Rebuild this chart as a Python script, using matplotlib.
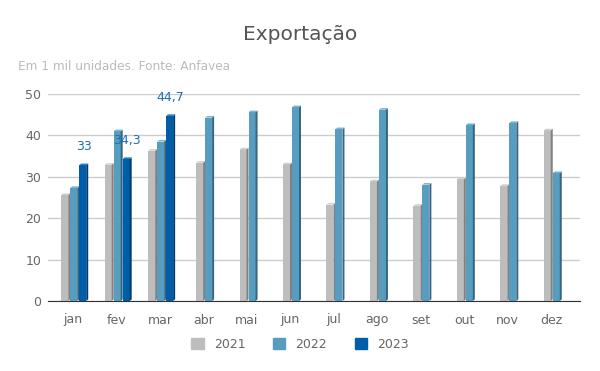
import matplotlib
matplotlib.use("Agg")
import matplotlib.pyplot as plt
from matplotlib.patches import Polygon
import numpy as np

# data (mil unidades)
meses = ["jan", "fev", "mar", "abr", "mai", "jun", "jul", "ago", "set", "out", "nov", "dez"]
v2021 = [25.6, 32.9, 36.3, 33.4, 36.6, 33.0, 23.3, 28.9, 23.0, 29.4, 27.8, 41.2]
v2022 = [27.3, 41.0, 38.5, 44.3, 45.6, 46.8, 41.5, 46.2, 28.1, 42.5, 43.0, 30.9]
v2023 = [32.8, 34.3, 44.7, None, None, None, None, None, None, None, None, None]
rotulos2023 = ["33", "34,3", "44,7"]

series = [("2021", v2021, "#bdbdbd", "#808080", "#d0d0d0"),
          ("2022", v2022, "#579dc0", "#376580", "#7bb5d2"),
          ("2023", v2023, "#005ea8", "#003c6e", "#2f7cc0")]

plt.rcParams['font.family'] = ['DejaVu Sans']

fig = plt.figure(figsize=(6, 3.71), dpi=100)
ax = fig.add_axes([48 / 600, 1 - 301 / 371, 532 / 600, 207 / 371])

slot = 0.207   # largura total de cada barra
frente = 0.161
lado = slot - frente
dy = 0.4

x = np.arange(len(meses))
for i in range(len(meses)):
    ativos = [s for s in series if s[1][i] is not None]
    n = len(ativos)
    for k, (nome, vals, cor, cor_lado, cor_topo) in enumerate(ativos):
        h = vals[i]
        x0 = x[i] - n * slot / 2 + k * slot + 0.04
        ax.bar(x0, h, width=frente, align="edge", color=cor, zorder=3)
        ax.add_patch(Polygon([(x0 + frente, 0), (x0 + slot, dy), (x0 + slot, h + dy), (x0 + frente, h)],
                             closed=True, color=cor_lado, zorder=3, lw=0))
        ax.add_patch(Polygon([(x0, h), (x0 + lado, h + dy), (x0 + slot, h + dy), (x0 + frente, h)],
                             closed=True, color=cor_topo, zorder=3, lw=0))
        if nome == "2023":
            ax.text(x0 + slot / 2, h + 3.0, rotulos2023[i], ha="center", va="bottom",
                    fontsize=9, color="#1f6db5", zorder=4)

ax.set_xlim(-0.575, 11.667)
ax.set_ylim(0, 50)
ax.set_yticks([0, 10, 20, 30, 40, 50])
ax.set_xticks(x)
ax.set_xticklabels(meses)
ax.tick_params(axis="both", length=0, labelsize=9, labelcolor="#666666")
ax.tick_params(axis="x", pad=9)
ax.tick_params(axis="y", pad=5)
ax.grid(axis="y", color="#cccccc", lw=1, zorder=0)
for s in ["top", "right", "left"]:
    ax.spines[s].set_visible(False)
ax.spines["bottom"].set_color("#333333")
ax.spines["bottom"].set_zorder(5)

fig.text(0.5, 1 - 35 / 371, "Exportação", ha="center", va="center", fontsize=14.5, color="#555555")
fig.text(18 / 600, 1 - 67 / 371, "Em 1 mil unidades. Fonte: Anfavea", ha="left", va="center",
         fontsize=8.7, color="#bbbbbb")

handles = [plt.Rectangle((0, 0), 1, 1, color=s[2]) for s in series]
fig.legend(handles, [s[0] for s in series], loc="center", bbox_to_anchor=(0.5, 1 - 344 / 371),
           ncol=3, frameon=False, fontsize=9, labelcolor="#666666", handlelength=1.0,
           handleheight=1.0, columnspacing=2.2, handletextpad=0.8)

fig.savefig("out.png", dpi=100)
